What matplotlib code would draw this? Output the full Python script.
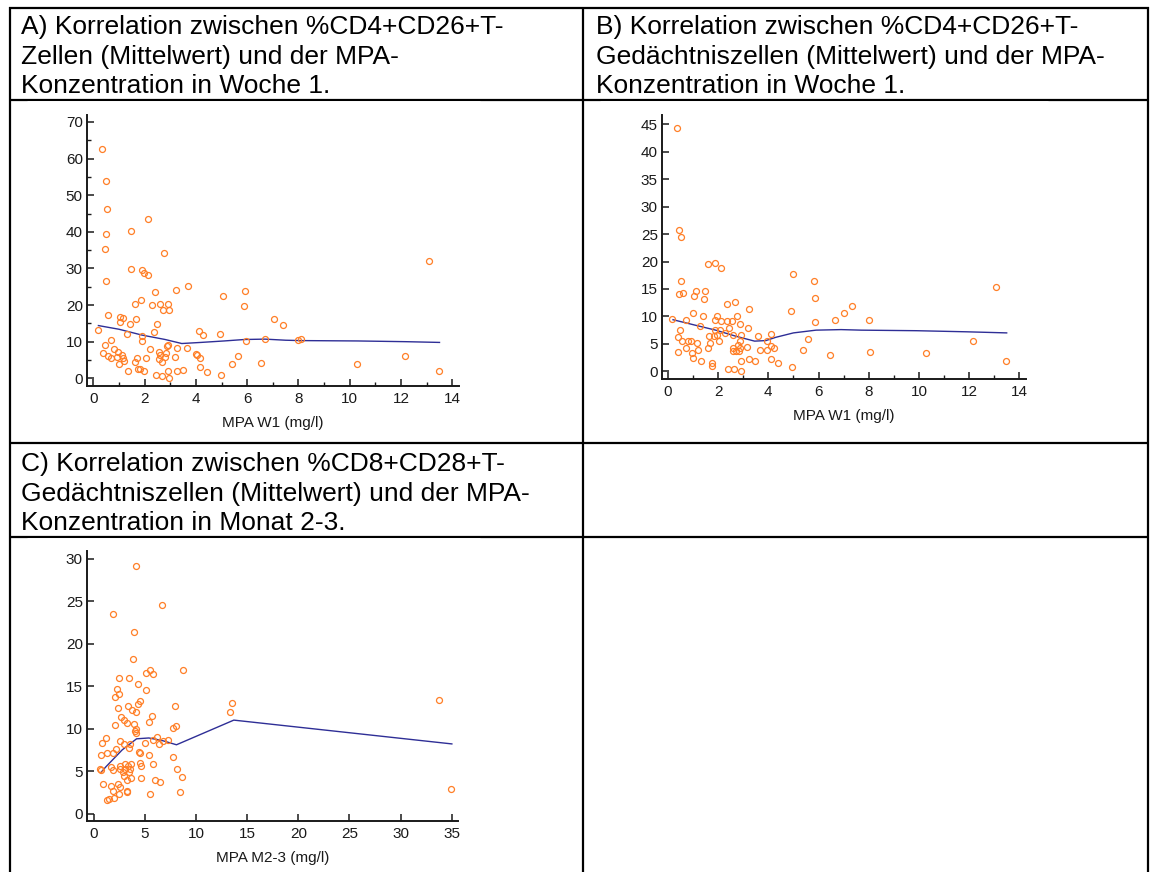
import matplotlib
matplotlib.use("Agg")
import matplotlib.pyplot as plt
from matplotlib.lines import Line2D
from matplotlib.ticker import MultipleLocator

plt.rcParams['font.family'] = ['Liberation Sans', 'DejaVu Sans']

W, H = 1150, 872

# --- data ---
a_x = [0.35, 0.51, 0.53, 0.51, 0.44, 0.48, 1.47, 2.12, 2.76, 1.49, 1.91, 1.99, 2.12, 3.71, 3.23, 2.39,
       5.04, 5.92, 5.86, 1.86, 1.62, 2.29, 2.60, 2.92, 2.71, 2.95, 0.58, 1.05, 1.16, 1.04, 1.65, 1.42,
       2.49, 7.06, 7.40, 0.17, 1.30, 2.35, 1.91, 1.91, 4.13, 4.26, 4.95, 5.94, 6.71, 8.00, 8.09, 0.71,
       0.45, 2.90, 2.86, 0.38, 0.58, 0.71, 0.82, 0.97, 0.92, 1.13, 1.16, 1.21, 1.00, 1.34, 1.71, 1.62,
       1.75, 1.81, 1.99, 2.06, 2.22, 2.56, 2.61, 2.84, 2.79, 2.58, 2.69, 3.18, 3.26, 2.92, 2.96, 2.43,
       2.66, 3.26, 3.48, 3.65, 3.99, 4.04, 4.16, 4.16, 4.43, 4.97, 5.40, 5.66, 6.54, 13.08, 10.29, 12.15,
       13.49]
a_y = [62.6, 54.0, 46.2, 39.5, 35.2, 26.7, 40.3, 43.5, 34.1, 29.8, 29.5, 28.8, 28.2, 25.3, 24.1, 23.5,
       22.5, 23.8, 19.7, 21.5, 20.2, 19.9, 20.2, 20.2, 18.7, 18.7, 17.3, 16.8, 16.6, 15.5, 16.3, 14.7,
       14.8, 16.1, 14.6, 13.2, 12.1, 12.7, 11.5, 10.1, 13.0, 11.7, 12.1, 10.3, 10.8, 10.4, 10.8, 10.5,
       9.0, 9.0, 8.7, 6.8, 6.1, 5.5, 8.0, 7.3, 5.9, 6.5, 5.5, 4.6, 3.8, 2.1, 5.6, 4.5,
       2.6, 2.5, 2.1, 5.6, 7.9, 7.2, 6.4, 6.8, 5.8, 5.2, 4.5, 5.9, 8.2, 2.1, 0.2, 0.9,
       0.7, 2.1, 2.4, 8.4, 6.7, 6.4, 5.5, 3.2, 1.8, 0.9, 4.0, 6.1, 4.3, 31.9, 4.0, 6.1,
       2.0]
a_fit_x = [0.2, 1.0, 1.9, 2.8, 3.45, 4.2, 5.1, 5.9, 6.7, 7.5, 8.1, 10.3, 12.2, 13.5]
a_fit_y = [14.4, 13.4, 11.8, 10.6, 9.5, 9.8, 10.2, 10.6, 10.7, 10.4, 10.3, 10.2, 10.0, 9.8]

b_x = [1.59, 1.89, 2.11, 0.53, 0.45, 0.58, 1.13, 1.49, 1.04, 1.45, 4.99, 5.80, 5.87, 2.36, 2.68, 3.21,
       1.01, 1.39, 1.95, 2.74, 4.91, 7.00, 7.33, 0.17, 0.70, 1.88, 2.11, 2.34, 2.57, 2.86, 1.28, 5.87,
       6.66, 0.49, 1.89, 2.09, 2.45, 3.20, 0.41, 0.57, 0.80, 0.92, 1.14, 1.63, 1.82, 1.97, 2.28, 2.59,
       2.92, 2.04, 1.68, 1.61, 2.87, 2.79, 2.58, 2.58, 2.70, 2.83, 2.88, 3.16, 3.59, 4.09, 3.95, 4.12,
       4.24, 3.96, 3.68, 5.59, 5.37, 6.47, 0.38, 0.70, 0.96, 0.99, 1.20, 1.32, 1.74, 1.76, 2.41, 2.63,
       2.92, 2.89, 3.22, 3.45, 4.12, 4.38, 4.93, 0.36, 0.43, 0.50, 13.07, 12.15, 10.29, 13.48, 8.02, 8.07]
b_y = [19.5, 19.8, 18.9, 16.5, 14.1, 14.2, 14.7, 14.7, 13.7, 13.2, 17.8, 16.4, 13.3, 12.2, 12.6, 11.3,
       10.6, 10.1, 10.1, 10.1, 10.9, 10.7, 11.9, 9.5, 9.3, 9.3, 9.2, 9.2, 9.2, 8.7, 8.3, 9.0,
       9.3, 7.5, 7.6, 7.6, 7.9, 7.9, 6.2, 5.6, 5.5, 5.5, 5.2, 6.5, 6.4, 6.7, 7.0, 6.7,
       6.7, 5.5, 5.2, 4.3, 5.5, 4.8, 4.2, 3.7, 3.7, 3.7, 4.2, 4.4, 6.5, 6.8, 5.5, 4.7,
       4.3, 3.9, 3.8, 5.9, 3.8, 3.0, 3.6, 4.2, 3.3, 2.5, 3.8, 1.8, 1.5, 1.0, 0.4, 0.5,
       0.1, 1.8, 2.3, 1.9, 2.3, 1.6, 0.7, 44.3, 25.8, 24.5, 15.4, 5.5, 3.3, 1.9, 9.4, 3.6]
b_fit_x = [0.2, 1.0, 1.9, 2.7, 3.45, 3.9, 4.3, 5.0, 5.9, 6.9, 7.7, 9.9, 11.9, 13.5]
b_fit_y = [9.4, 8.5, 7.5, 6.4, 5.5, 5.6, 6.2, 7.0, 7.5, 7.6, 7.5, 7.4, 7.2, 7.0]

c_x = [3.83, 2.50, 3.44, 5.13, 5.52, 5.78, 8.70, 4.35, 5.10, 2.27, 2.47, 2.11, 3.38, 4.51, 4.38, 3.80,
       4.12, 2.40, 7.99, 2.69, 2.99, 3.28, 5.39, 5.75, 2.14, 3.99, 4.12, 4.09, 4.12, 7.79, 8.05, 1.23,
       0.81, 0.71, 1.33, 1.88, 2.21, 2.56, 2.99, 3.57, 3.47, 4.55, 4.45, 5.03, 6.17, 5.81, 6.43, 5.39,
       6.79, 7.31, 7.76, 0.62, 0.75, 1.66, 1.92, 2.63, 2.63, 3.08, 3.08, 2.92, 3.41, 3.64, 3.57, 4.61,
       4.55, 3.51, 2.95, 3.64, 3.25, 4.64, 5.78, 8.12, 8.67, 0.97, 1.72, 1.92, 2.40, 2.56, 3.28, 3.31,
       2.44, 2.01, 1.33, 1.53, 6.04, 6.53, 5.52, 8.47, 4.14, 6.64, 1.92, 3.97, 13.57, 13.35, 33.78, 34.95]
c_y = [18.2, 15.9, 16.0, 16.5, 16.9, 16.4, 16.9, 15.2, 14.6, 14.7, 14.1, 13.7, 12.7, 13.3, 12.9, 12.2,
       11.9, 12.4, 12.7, 11.4, 11.0, 10.7, 10.8, 11.5, 10.4, 10.5, 10.0, 9.7, 9.5, 10.1, 10.3, 8.9,
       8.3, 6.9, 7.1, 7.1, 7.6, 8.5, 8.2, 8.2, 7.7, 7.1, 7.2, 8.3, 9.0, 8.7, 8.2, 6.9,
       8.6, 8.7, 6.7, 5.3, 5.1, 5.5, 5.1, 5.6, 5.2, 5.8, 5.3, 4.9, 5.6, 5.8, 5.2, 5.6,
       6.0, 4.9, 4.4, 4.2, 3.9, 4.2, 5.8, 5.3, 4.3, 3.5, 3.3, 2.7, 3.5, 3.1, 2.7, 2.5,
       2.3, 1.8, 1.6, 1.7, 3.9, 3.7, 2.3, 2.5, 29.1, 24.6, 23.5, 21.4, 13.0, 11.9, 13.4, 2.9]
c_fit_x = [0.7, 1.2, 2.8, 4.2, 5.4, 6.7, 8.1, 13.7, 35.0]
c_fit_y = [4.8, 5.5, 7.5, 8.8, 8.9, 8.6, 8.1, 11.0, 8.2]

title_a = ["A) Korrelation zwischen %CD4+CD26+T-", "Zellen (Mittelwert) und der MPA-",
           "Konzentration in Woche 1."]
title_b = ["B) Korrelation zwischen %CD4+CD26+T-", "Gedächtniszellen (Mittelwert) und der MPA-",
           "Konzentration in Woche 1."]
title_c = ["C) Korrelation zwischen %CD8+CD28+T-", "Gedächtniszellen (Mittelwert) und der MPA-",
           "Konzentration in Monat 2-3."]

fig = plt.figure(figsize=(W / 100, H / 100), dpi=100)
fig.patch.set_facecolor('white')


def fx(px):
    return px / W


def fy(py):
    return 1 - py / H


def hline(y, x0, x1, lw=1.6, color='black'):
    fig.add_artist(Line2D([fx(x0), fx(x1)], [fy(y), fy(y)], color=color, lw=lw,
                          solid_capstyle='butt'))


def vline(x, y0, y1, lw=1.6):
    fig.add_artist(Line2D([fx(x), fx(x)], [fy(y0), fy(y1)], color='black', lw=lw,
                          solid_capstyle='butt'))


# table grid
hline(8, 9, 1149)
hline(100, 9, 1149)
hline(443, 9, 1149)
hline(537, 9, 1149)
vline(10, 7, 872)
vline(583, 7, 872)
vline(1148, 7, 872)
# pasted chart images cover the lower half of some rules
hline(100.8, 27, 480, lw=0.6, color='white')
hline(100.8, 600, 1048, lw=0.6, color='white')
hline(537.8, 27, 480, lw=0.6, color='white')


def header(lines, x, y0):
    for i, t in enumerate(lines):
        fig.text(fx(x), fy(y0 + i * 29.6), t, fontsize=19, va='baseline', ha='left',
                 color='black')


header(title_a, 21, 34)
header(title_b, 596, 34)
header(title_c, 21, 471)


def panel(rect, xs, ys, fx_, fy_, xlim, ylim, xmaj, xmin, ymaj, ymin, xlabel):
    l, t, r, b = rect
    ax = fig.add_axes([fx(l), fy(b), (r - l) / W, (b - t) / H])
    ax.plot(fx_, fy_, color='#2e2e96', lw=1.0, zorder=2)
    ax.plot(xs, ys, 'o', ms=4.3, mfc='none', mec='#ff7f27', mew=0.9, zorder=3)
    ax.set_xlim(*xlim)
    ax.set_ylim(*ylim)
    ax.xaxis.set_major_locator(MultipleLocator(xmaj))
    ax.yaxis.set_major_locator(MultipleLocator(ymaj))
    if xmin:
        ax.xaxis.set_minor_locator(MultipleLocator(xmin))
    if ymin:
        ax.yaxis.set_minor_locator(MultipleLocator(ymin))
    for s in ['top', 'right']:
        ax.spines[s].set_visible(False)
    for s in ['left', 'bottom']:
        ax.spines[s].set_linewidth(1.4)
        ax.spines[s].set_color('#1a1a1a')
    ax.tick_params(which='major', direction='in', length=5, width=1.1, color='#1a1a1a',
                   labelsize=11, labelcolor='#1a1a1a')
    ax.tick_params(which='minor', direction='in', length=3, width=1.0, color='#1a1a1a')
    ax.tick_params(axis='x', which='major', pad=4.5)
    ax.tick_params(axis='y', which='major', pad=3)
    ax.set_xlabel(xlabel, fontsize=11, color='#1a1a1a', labelpad=7)
    ax.patch.set_alpha(0)
    return ax


panel((87, 115, 459, 386), a_x, a_y, a_fit_x, a_fit_y, (-0.245, 14.26), (-2.1, 71.9),
      2, 1, 10, 5, "MPA W1 (mg/l)")
panel((662, 115, 1026, 379), b_x, b_y, b_fit_x, b_fit_y, (-0.24, 14.27), (-1.4, 46.7),
      2, 1, 5, None, "MPA W1 (mg/l)")
panel((87, 551, 458, 821), c_x, c_y, c_fit_x, c_fit_y, (-0.64, 35.6), (-0.87, 30.9),
      5, None, 5, None, "MPA M2-3 (mg/l)")

fig.savefig("out.png", dpi=100)
